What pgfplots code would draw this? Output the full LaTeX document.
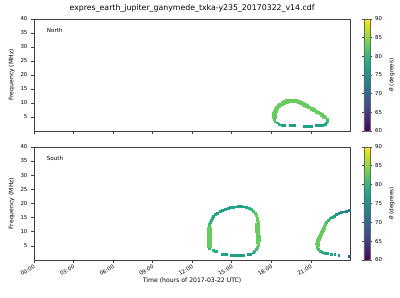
\documentclass[border=0pt]{standalone}
\usepackage{pgfplots}
\pgfplotsset{compat=1.18}
\usepackage{fontspec}
\setmainfont{DejaVu Sans}
\begin{document}
\pgfplotsset{
  mybase/.style={
    scale only axis, width=319bp,
    xmin=0, xmax=24, ymin=0, ymax=40,
    xtick={0,3,...,21}, ytick={5,10,...,40},
    axis line style={black!75, line width=0.6bp},
    tick style={black!75, line width=0.5bp},
    tick align=outside, major tick length=3bp,
    xtick pos=bottom, ytick pos=left,
    /pgf/number format/assume math mode=true,
    tick label style={font=\fontsize{5.5}{6}\selectfont},
    label style={font=\fontsize{6.2}{7}\selectfont},
    ylabel={Frequency (MHz)},
    ylabel style={yshift=-1bp},
    colormap/viridis,
    point meta min=60, point meta max=90,
    colorbar,
    colorbar style={
      at={(parent axis.north east)}, anchor=north west, xshift=5bp,
      width=6bp,
      ytick={60,65,...,90},
      yticklabel pos=right,
      tick align=outside, major tick length=2bp,
      axis line style={black!60, line width=0.4bp},
      tick style={black!75, line width=0.4bp},
      /pgf/number format/assume math mode=true,
      yticklabel style={font=\fontsize{5.5}{6}\selectfont},
      ylabel={\textit{θ} (degrees)},
      ylabel style={font=\fontsize{5.8}{6}\selectfont},
    },
  },
  myscat/.style={scatter, only marks, scatter src=explicit,
    mark=square*, mark size=0.95bp,
    scatter/use mapped color={draw=mapped color, fill=mapped color},
    mark options={line width=0.1pt}},
}
\begin{tikzpicture}
\useasboundingbox (0,0) rectangle (400bp,300bp);
\begin{axis}[mybase, at={(31bp,168bp)}, anchor=south west, height=113bp,
  xticklabels={},
  title={expres\_earth\_jupiter\_ganymede\_txka-y235\_20170322\_v14.cdf},
  title style={font=\fontsize{7.9}{9}\selectfont, yshift=-2.5bp}]
\node[anchor=north west, font=\fontsize{5.7}{6}\selectfont] at (axis description cs:0.03,0.95) {North};
\addplot[myscat] table[x=t, y=f, meta=th] {
t f th
18.25 3.6 81
18.18 4.3 82
18.14 5.0 83
18.13 5.7 83
18.15 6.4 83
18.20 7.1 83
18.27 7.8 83
18.36 8.5 83
18.48 9.1 83
18.62 9.7 83
18.78 10.2 83
18.95 10.6 83
19.12 10.9 83
19.30 11.1 83
19.50 11.2 83
19.70 11.15 83
19.90 11.0 83
20.08 10.75 83
20.25 10.4 83
20.42 10.0 83
20.58 9.55 83
20.74 9.1 83
20.90 8.65 83
21.06 8.2 83
21.22 7.75 83
21.38 7.3 83
21.54 6.85 83
21.70 6.4 83
21.85 5.9 83
21.98 5.4 83
22.10 4.85 83
22.20 4.25 82
22.22 3.6 81
22.15 3.0 80
22.05 2.5 78
18.30 5.0 83
18.30 6.0 83
18.36 7.0 83
18.48 8.0 83
18.62 8.8 83
18.80 9.5 83
19.00 10.0 83
19.20 10.4 83
19.40 10.6 83
19.60 10.6 83
19.80 10.5 83
20.00 10.2 83
20.20 9.8 83
20.40 9.4 83
20.60 8.9 83
20.80 8.4 83
21.00 7.9 83
21.20 7.4 83
21.40 6.9 83
21.60 6.4 83
21.80 5.7 83
21.95 5.0 83
21.85 2.1 77
21.70 2.05 77
21.55 2.0 77
21.40 2.0 77
21.05 1.9 77
20.90 1.9 77
20.75 1.9 77
20.60 1.9 77
20.45 1.9 77
19.70 2.0 77
19.55 2.0 77
19.40 2.0 77
19.00 2.15 77
18.85 2.2 77
18.70 2.3 78
18.55 2.6 79
18.42 3.0 80
};
\end{axis}
\begin{axis}[mybase, at={(31bp,38bp)}, anchor=south west, height=114bp,
  xticklabels={00:00,03:00,06:00,09:00,12:00,15:00,18:00,21:00},
  xticklabel style={rotate=30, anchor=north east, inner sep=1bp},
  xlabel={Time (hours of 2017-03-22 UTC)},
  xlabel style={yshift=3bp}]
\node[anchor=north west, font=\fontsize{5.7}{6}\selectfont] at (axis description cs:0.03,0.95) {South};
\addplot[myscat] table[x=t, y=f, meta=th] {
t f th
13.30 4.3 80
13.22 5.0 82
13.20 5.7 83
13.19 6.4 83
13.19 7.1 83
13.19 7.8 83
13.19 8.5 83
13.19 9.2 83
13.20 9.9 83
13.21 10.6 83
13.23 11.3 83
13.26 12.0 82
13.30 12.7 81
13.35 13.4 80
13.42 14.1 79
13.50 14.8 78
13.60 15.5 78
13.72 16.1 77
13.90 16.7 77
14.10 17.2 77
14.30 17.6 77
14.50 18.0 77
14.70 18.3 77
14.90 18.6 77
15.10 18.8 77
15.30 18.9 77
15.50 18.95 77
15.70 18.95 77
15.90 18.9 77
16.10 18.8 78
16.30 18.5 79
16.50 18.0 80
16.65 17.4 81
16.78 16.6 82
16.87 15.8 83
16.92 15.0 83
16.95 14.2 83
16.97 13.4 83
16.98 12.6 83
17.00 11.8 83
17.00 11.0 83
17.02 10.2 83
17.03 9.4 83
17.04 8.6 83
17.05 7.8 83
17.05 7.0 83
17.03 6.2 83
16.98 5.4 83
16.92 4.6 82
16.85 3.8 81
16.72 3.1 80
16.60 2.6 78
16.40 2.2 77
16.20 2.0 77
13.35 5.0 83
13.34 5.8 83
13.34 6.6 83
13.34 7.4 83
13.34 8.2 83
13.34 9.0 83
13.35 9.8 83
13.36 10.6 83
13.38 11.4 83
16.88 6.2 83
16.90 7.0 83
16.90 7.8 83
16.89 8.6 83
16.88 9.4 83
16.87 10.2 83
16.86 11.0 83
16.85 11.8 83
16.83 12.6 83
15.85 1.75 77
15.70 1.75 77
15.55 1.75 77
15.40 1.75 77
15.25 1.75 77
15.10 1.75 77
14.96 1.75 77
14.60 2.1 77
14.45 2.1 77
14.30 2.15 77
13.85 3.0 78
13.72 3.2 78
13.60 3.4 79
23.90 17.7 72
23.70 17.4 73
23.50 17.1 73
23.30 16.8 74
23.10 16.5 75
22.92 16.1 76
22.75 15.6 77
22.58 15.2 78
22.42 14.7 79
22.28 14.1 80
22.17 13.5 81
22.07 12.8 82
21.98 12.1 83
21.90 11.4 83
21.82 10.7 83
21.74 10.0 83
21.67 9.3 83
21.60 8.6 83
21.54 7.9 83
21.48 7.2 83
21.44 6.5 83
21.42 5.8 83
21.44 5.1 83
21.50 4.4 82
21.58 3.8 81
21.70 3.2 80
21.85 2.8 79
22.05 2.5 78
22.25 2.35 77
22.50 2.2 77
22.80 2.0 76
23.10 1.75 75
23.90 1.4 68
21.57 5.1 83
21.56 5.8 83
21.57 6.5 83
21.61 7.2 83
21.67 7.9 83
21.73 8.6 83
21.80 9.3 83
21.87 10.0 83
21.95 10.7 83
22.03 11.4 83
};
\end{axis}
\end{tikzpicture}
\end{document}
